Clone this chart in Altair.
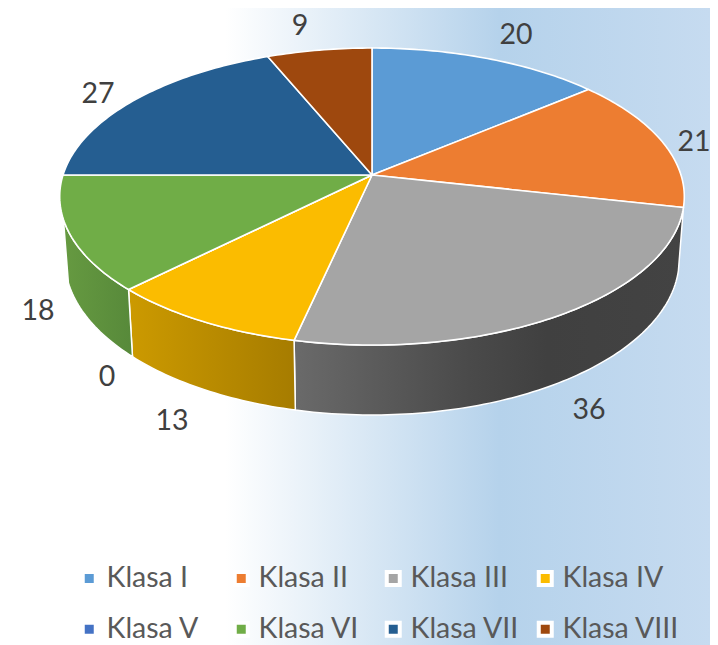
import math
import altair as alt

categories = ["Klasa I", "Klasa II", "Klasa III", "Klasa IV", "Klasa V", "Klasa VI", "Klasa VII", "Klasa VIII"]
values = [20, 21, 36, 13, 0, 18, 27, 9]
colors = ["#5B9BD5", "#ED7D31", "#A5A5A5", "#FBBC00", "#4472C4", "#70AD47", "#255E91", "#9E480E"]
# the legend fills column by column, so this order reads row by row on the page
legend_order = [0, 4, 1, 5, 2, 6, 3, 7]

W, H, M = 710, 645, 8
TOP = dict(cx=372, cy=175, a=309, b=145.4, k=0.145)
LOW = dict(cx=372, cy=236.4, a=304, b=152.7, k=0.145)


def project(theta, e):
    u, v = math.sin(math.radians(theta)), -math.cos(math.radians(theta))
    d = 1 - e["k"] * v
    return [e["cx"] + e["a"] * u / d, e["cy"] + e["b"] * v / d]


def arc_angles(t0, t1):
    n = max(int(abs(t1 - t0)), 1)
    return [t0 + (t1 - t0) * i / n for i in range(n + 1)]


def feature(name, ring):
    ring = ring + [ring[0]]
    return {"type": "Feature", "properties": {"name": name},
            "geometry": {"type": "Polygon", "coordinates": [ring]}}


def dataset(features):
    return alt.InlineData(values={"type": "FeatureCollection", "features": features},
                          format=alt.DataFormat(property="features", type="json"))


total = sum(values)
bounds = [0]
for v in values:
    bounds.append(bounds[-1] + v * 360 / total)

tops = []
for name, t0, t1 in zip(categories, bounds[:-1], bounds[1:]):
    tops.append(feature(name, [[TOP["cx"], TOP["cy"]]] + [project(t, TOP) for t in arc_angles(t0, t1)]))

WALL_END = 253
wall_specs = [
    (2, bounds[2], bounds[3], [("#6a6a6a", 0), ("#4a4a4a", 0.45), ("#404040", 0.65), ("#434343", 1)]),
    (3, bounds[3], bounds[4], [("#cc9a00", 0), ("#a67c00", 1)]),
    (5, bounds[5], WALL_END, [("#669a41", 0), ("#57893a", 1)]),
]

label_x = [516, 694, 589, 172, 107, 38, 98, 300]
label_y = [35, 142, 410, 421, 377, 311, 94, 26]

frame = [feature("frame", [[M, M], [W, M], [W, H], [M, H]])]

bg = alt.Chart(alt.Data(values=[{"a": 0}])).mark_rect(
    fill={"gradient": "linear", "x1": 0, "x2": 1, "y1": 0, "y2": 0,
          "stops": [{"offset": 0, "color": "#ffffff"}, {"offset": 0.31, "color": "#ffffff"},
                    {"offset": 0.70, "color": "#b5d2eb"}, {"offset": 1, "color": "#c6dbf0"}]},
).encode(x=alt.value(0), x2=alt.value(W - M), y=alt.value(0), y2=alt.value(H - M))

frame_layer = alt.Chart(dataset(frame)).mark_geoshape(fillOpacity=0, strokeOpacity=0)

layers = [bg, frame_layer]
for idx, t0, t1, stops in wall_specs:
    ring = [project(t, TOP) for t in arc_angles(t0, t1)] + [project(t, LOW) for t in arc_angles(t1, t0)]
    layers.append(
        alt.Chart(dataset([feature(categories[idx], ring)])).mark_geoshape(
            fill={"gradient": "linear", "x1": 0, "x2": 1, "y1": 0, "y2": 0,
                  "stops": [{"offset": o, "color": c} for c, o in stops]},
            stroke="white", strokeWidth=1.5, strokeJoin="round")
    )

legend = alt.Legend(
    title=None, orient="none", legendX=67, legendY=556, columns=4, gridAlign="all",
    columnPadding=2, rowPadding=21, symbolType="square", symbolSize=169,
    symbolStrokeColor="white", symbolStrokeWidth=4, labelFont="Lato", labelFontSize=28.5,
    labelColor="#595959", labelOffset=3, symbolOpacity=1, labelLimit=200, padding=0,
)

top_layer = alt.Chart(dataset(tops)).mark_geoshape(stroke="white", strokeWidth=1.6, strokeJoin="round").encode(
    color=alt.Color("properties.name:N",
                    scale=alt.Scale(domain=[categories[i] for i in legend_order],
                                    range=[colors[i] for i in legend_order]),
                    legend=legend)
)
layers.append(top_layer)

rows = [{"label": str(v), "px": x - M, "py": y - M} for v, x, y in zip(values, label_x, label_y)]
text = alt.Chart(alt.Data(values=rows)).mark_text(
    font="Lato", fontSize=28.5, color="#404040", align="center", baseline="middle"
).encode(x=alt.X("px:Q", scale=None), y=alt.Y("py:Q", scale=None), text="label:N")
layers.append(text)

chart = alt.layer(*layers).properties(
    width=W - M, height=H - M, padding=0,
    autosize=alt.AutoSizeParams(type="none"),
    projection=alt.Projection(type="identity"),
).configure_view(stroke=None)

chart.save("out.html", embed_options={"renderer": "svg", "actions": False})
